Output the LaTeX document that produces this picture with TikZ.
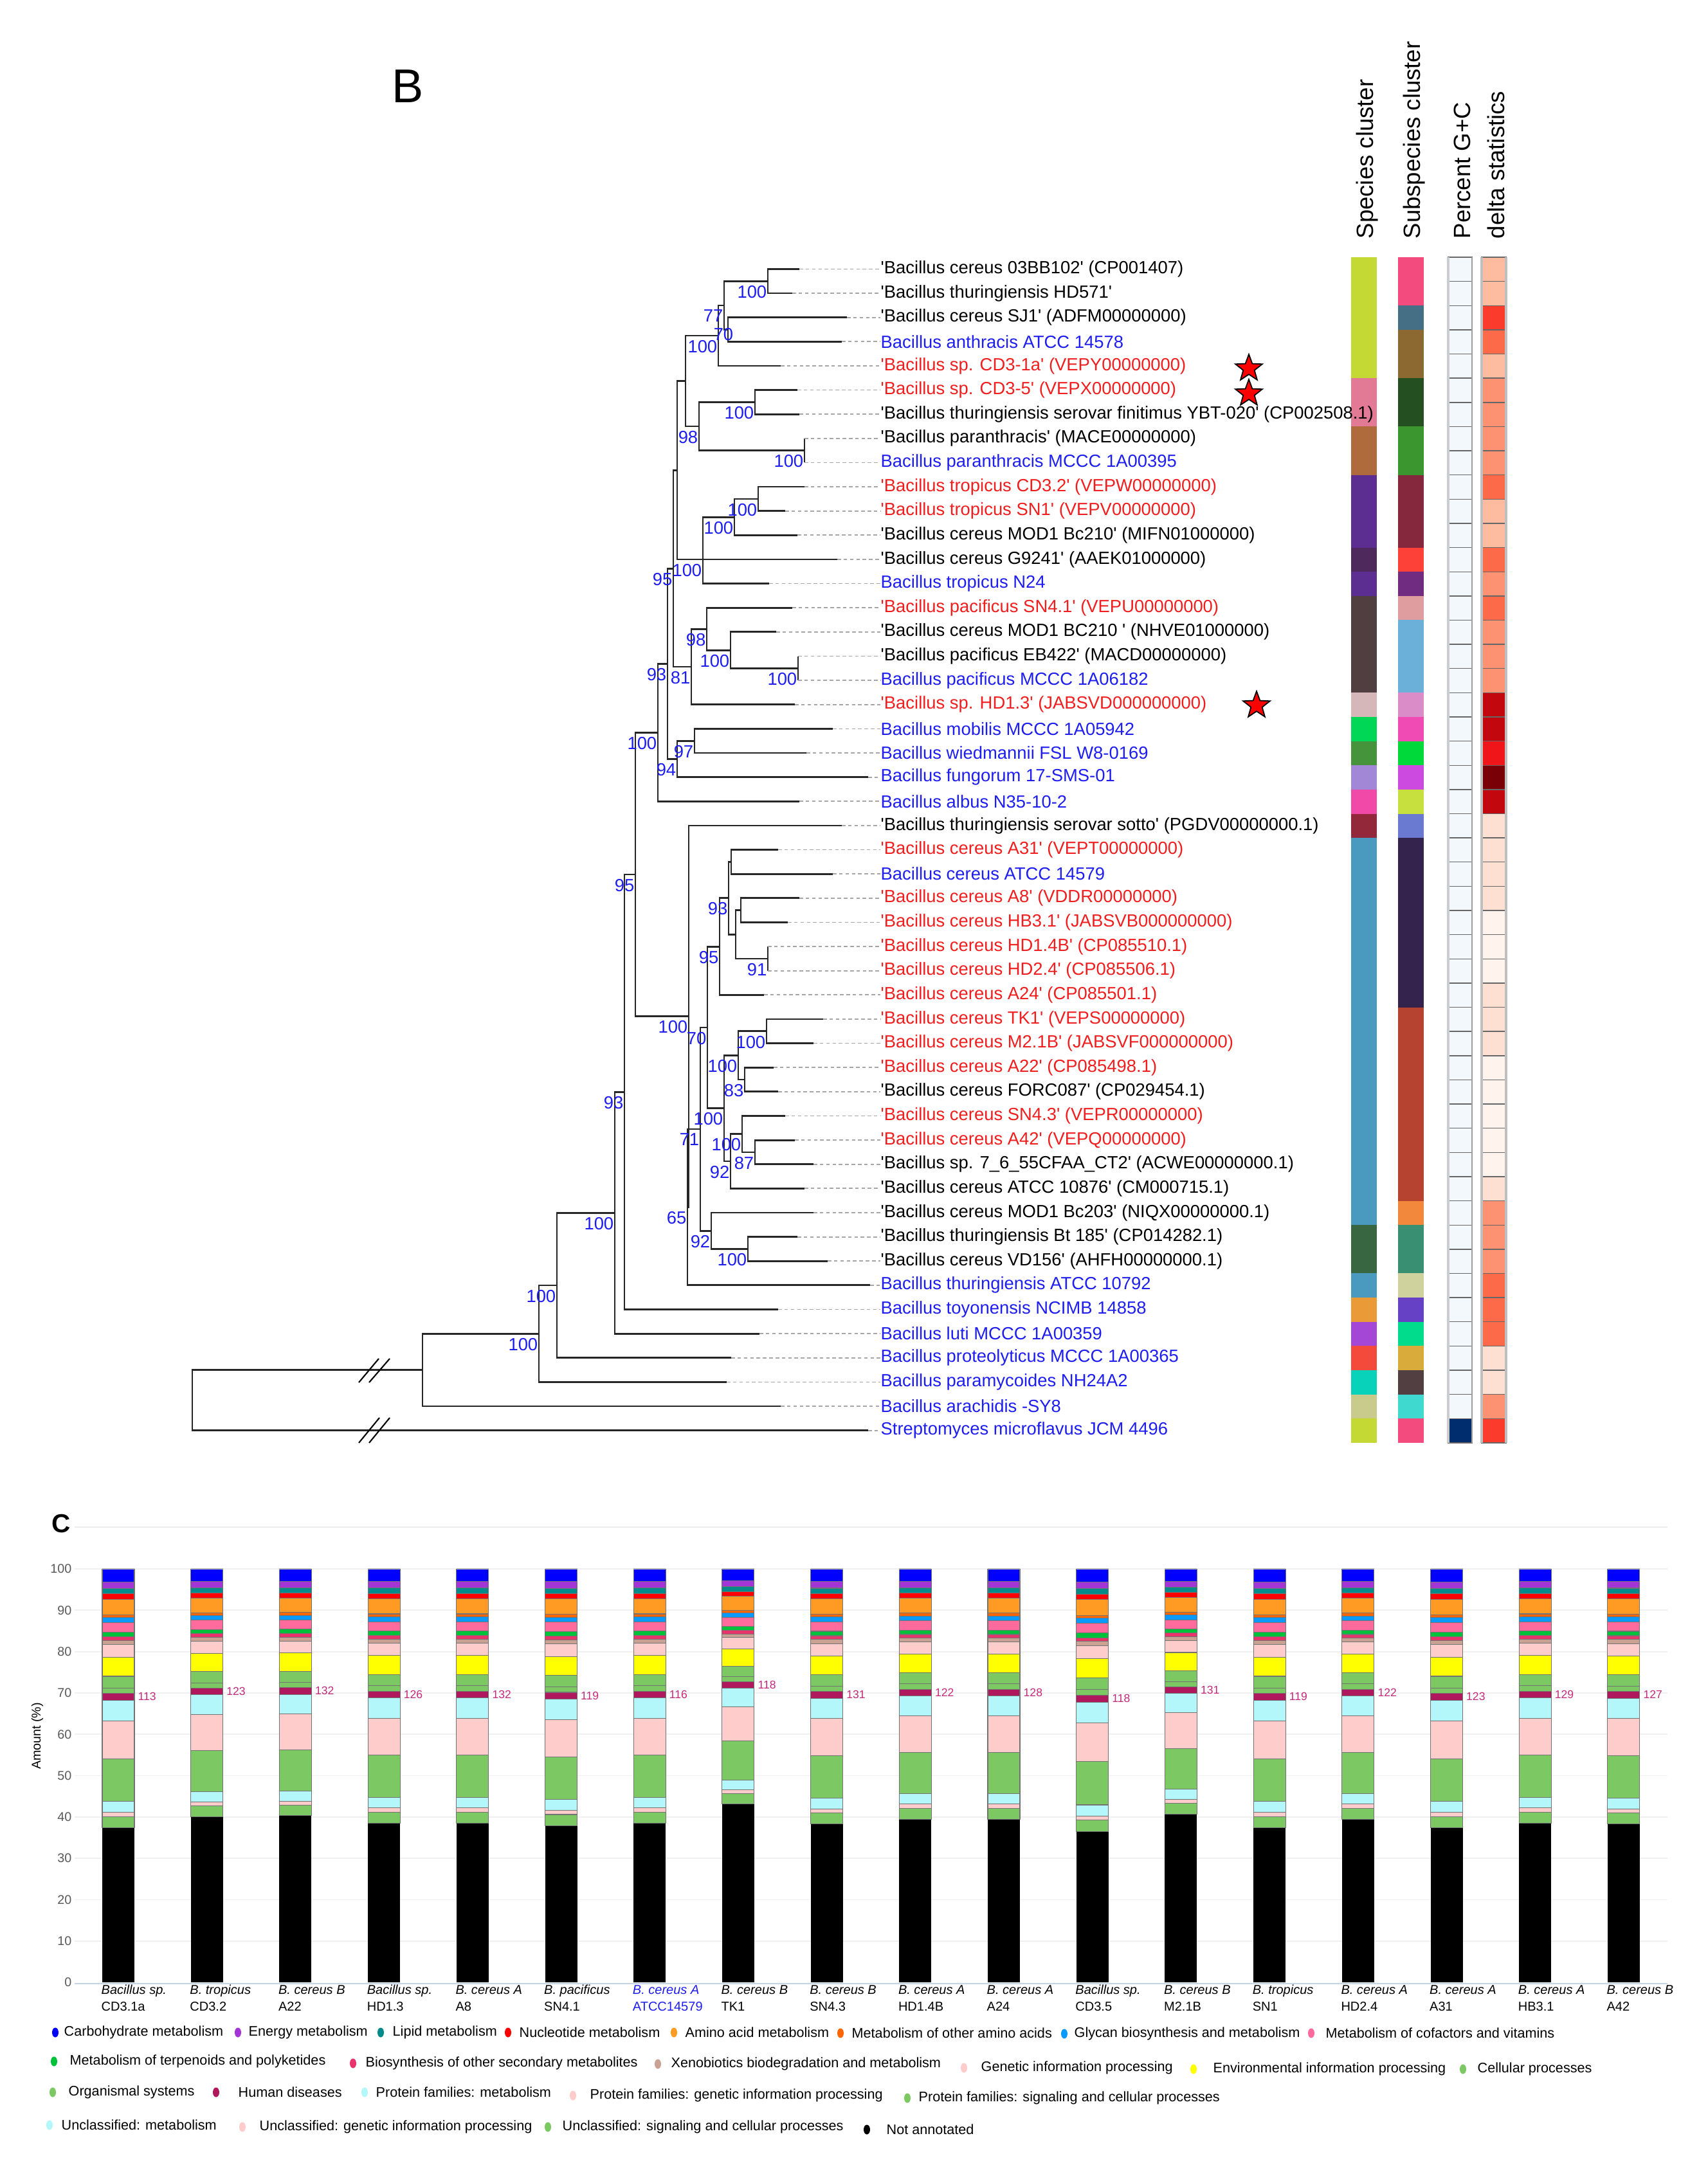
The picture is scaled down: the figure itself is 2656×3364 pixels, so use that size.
\documentclass[tikz,border=0pt]{standalone}
\usepackage{fontspec}
\setmainfont{Liberation Sans}
\usetikzlibrary{shapes.geometric}
\newcommand{\sqt}[1]{\textquotesingle#1\textquotesingle}
\definecolor{tb}{HTML}{1E1EF0}
\definecolor{tr}{HTML}{F01E1E}
\definecolor{tk}{HTML}{000000}
\definecolor{numc}{HTML}{C42A7C}
\definecolor{gcl}{HTML}{F3F8FC}
\definecolor{gcn}{HTML}{002D6E}
\definecolor{axisblue}{HTML}{C5D3E8}
% delta statistics shades
\definecolor{dA}{HTML}{FDBBA0}
\definecolor{dB}{HTML}{FC9272}
\definecolor{dC}{HTML}{FC6A4A}
\definecolor{dD}{HTML}{FB3B2B}
\definecolor{dE}{HTML}{C2080E}
\definecolor{dF}{HTML}{EF1519}
\definecolor{dG}{HTML}{7A0007}
\definecolor{dH}{HTML}{FDE0D2}
\definecolor{dI}{HTML}{FFF3EE}
% KEGG categories
\definecolor{cCb}{HTML}{0000FF}
\definecolor{cEn}{HTML}{A335D6}
\definecolor{cLi}{HTML}{008B8B}
\definecolor{cNu}{HTML}{FF0000}
\definecolor{cAa}{HTML}{FF9A22}
\definecolor{cOa}{HTML}{FF6600}
\definecolor{cGl}{HTML}{0A99FF}
\definecolor{cCv}{HTML}{FF6B9D}
\definecolor{cTp}{HTML}{00C23A}
\definecolor{cBs}{HTML}{E8336B}
\definecolor{cXb}{HTML}{C9A293}
\definecolor{cGi}{HTML}{FFCCCC}
\definecolor{cEi}{HTML}{FFFF00}
\definecolor{cCp}{HTML}{7CC862}
\definecolor{cOs}{HTML}{7CC862}
\definecolor{cHd}{HTML}{B0185E}
\definecolor{cPm}{HTML}{B3F7FA}
\definecolor{cPg}{HTML}{FFCCCC}
\definecolor{cPs}{HTML}{7CC862}
\definecolor{cUm}{HTML}{B3F7FA}
\definecolor{cUg}{HTML}{FFCCCC}
\definecolor{cUs}{HTML}{7CC862}
\definecolor{cNa}{HTML}{000000}

\begin{document}
\begin{tikzpicture}[x=0.1mm, y=-0.1mm,
	br/.style={line width=0.8pt, black!85},
	dl/.style={gray!70, line width=0.5pt, dash pattern=on 1.6pt off 1.2pt},
	lf/.style={font=\fontsize{7.8}{9}\selectfont, anchor=west, inner sep=0pt},
	bs/.style={font=\fontsize{7.8}{9}\selectfont, text=tb, anchor=north east, inner sep=0.3pt, yshift=-1.5pt},
	hd/.style={font=\fontsize{10.4}{12}\selectfont, rotate=90, anchor=west, inner sep=0pt},
	redstar/.style={star, star points=5, star point ratio=2.4, fill=red, draw=black, line width=0.5pt, minimum size=4.4mm, inner sep=0pt},
	bl/.style={font=\fontsize{5.7}{7}\selectfont, anchor=base west, inner sep=0pt},
	ticklab/.style={font=\fontsize{5.6}{7}\selectfont, text=black!65, anchor=east, inner sep=0pt},
	nmst/.style={font=\fontsize{5}{6}\selectfont, text=numc, anchor=west, inner sep=0pt},
	lg/.style={font=\fontsize{6.15}{7}\selectfont, anchor=west, inner sep=0pt}]
	\fill[white] (0,0) rectangle (2656,3364);
	\useasboundingbox (0,0) rectangle (2656,3364);

	% ---------- panel B ----------
	\node[font=\fontsize{21}{24}\selectfont, anchor=west, inner sep=0pt] (lblB) at (609,134) {B};

	% column headers
	\node[hd] (hSp) at (2126,372) {Species cluster};
	\node[hd] (hSub) at (2199,372) {Subspecies cluster};
	\node[hd] (hGC) at (2274,372) {Percent G+C};
	\node[hd] (hDel) at (2326,372) {delta statistics};

	% species cluster strip
	\foreach \a/\b/\c in {1/5/C5D934, 6/7/E27A95, 8/9/B06B3C, 10/12/5D2E91, 13/13/4E2A5C,
		14/14/5D2E91, 15/18/503E40, 19/19/D5B7BA, 20/20/00D757, 21/21/45933A, 22/22/A187D6,
		23/23/F149A8, 24/24/93283A, 25/40/4A9AC0, 41/42/386640, 43/43/4A9AC0, 44/44/EA9A36,
		45/45/A447D6, 46/46/F44A3B, 47/47/08D2B9, 48/48/C8CB8B, 49/49/C5D934}{
		\edef\tmp{\noexpand\definecolor{runc}{HTML}{\c}}\tmp
		\fill[runc] (2101,{400+37.63*(\a-1)}) rectangle (2141,{400+37.63*\b});
	}
	% subspecies cluster strip
	\foreach \a/\b/\c in {1/2/F34B7D, 3/3/456F85, 4/5/8D6932, 6/7/234F21, 8/9/3C962F,
		10/12/86283D, 13/13/FE4138, 14/14/702C80, 15/15/E09D9F, 16/18/6BB0D8, 19/19/D98CC8,
		20/20/F04AB5, 21/21/00D93A, 22/22/CD4AE0, 23/23/C8E03E, 24/24/6A7AD0, 25/31/34234D,
		32/39/B5432F, 40/40/F2883B, 41/42/388F72, 43/43/CFD29D, 44/44/6640C5, 45/45/00DC8C,
		46/46/D9AB3A, 47/47/523F42, 48/48/40D9D0, 49/49/F34B7D}{
		\edef\tmp{\noexpand\definecolor{runc}{HTML}{\c}}\tmp
		\fill[runc] (2174,{400+37.63*(\a-1)}) rectangle (2214,{400+37.63*\b});
	}
	% percent G+C strip
	\foreach \i in {1,...,48}
		\filldraw[fill=gcl, draw=gray!80!black, line width=0.4pt] (2252,{400+37.63*(\i-1)}) rectangle (2289,{400+37.63*\i});
	\filldraw[fill=gcn, draw=gray!80!black, line width=0.4pt] (2252,2206.2) rectangle (2289,2243.9);
	\draw[gray!40, line width=1.3pt] (2252,400) -- (2252,2244);
	\draw[gray!75, line width=0.8pt] (2289,400) -- (2289,2244);
	% delta statistics strip
	\foreach \c [count=\i] in {dA,dA,dD,dC,dA,dB,dB,dB,dB,dC,dA,dA,dC,dB,dC,dB,dB,dB,dE,dE,
		dF,dG,dE,dH,dH,dH,dH,dI,dI,dI,dH,dH,dH,dI,dI,dI,dI,dI,dH,dB,dB,dB,dC,dC,dC,dH,dH,dB,dD}
		\filldraw[fill=\c, draw=black!60, line width=0.4pt] (2304,{400+37.63*(\i-1)}) rectangle (2342,{400+37.63*\i});
	\draw[gray!50, line width=0.9pt] (2304,400) -- (2304,2244) (2342,400) -- (2342,2244);

	% leaves: tip of branch and label
	\foreach \i/\tip/\col/\txt in {
		1/1243/tk/{\sqt{Bacillus cereus 03BB102} (CP001407)},
		2/1232/tk/{\sqt{Bacillus thuringiensis HD571}},
		3/1317/tk/{\sqt{Bacillus cereus SJ1} (ADFM00000000)},
		4/1309/tb/{Bacillus anthracis ATCC 14578},
		5/1214/tr/{\sqt{Bacillus sp. CD3-1a} (VEPY00000000)},
		6/1240/tr/{\sqt{Bacillus sp. CD3-5} (VEPX00000000)},
		7/1243/tk/{\sqt{Bacillus thuringiensis serovar finitimus YBT-020} (CP002508.1)},
		8/1251/tk/{\sqt{Bacillus paranthracis} (MACE00000000)},
		9/1251/tb/{Bacillus paranthracis MCCC 1A00395},
		10/1251/tr/{\sqt{Bacillus tropicus CD3.2} (VEPW00000000)},
		11/1221/tr/{\sqt{Bacillus tropicus SN1} (VEPV00000000)},
		12/1240/tk/{\sqt{Bacillus cereus MOD1 Bc210} (MIFN01000000)},
		13/1302/tk/{\sqt{Bacillus cereus G9241} (AAEK01000000)},
		14/1196/tb/{Bacillus tropicus N24},
		15/1232/tr/{\sqt{Bacillus pacificus SN4.1} (VEPU00000000)},
		16/1207/tk/{\sqt{Bacillus cereus MOD1 BC210 } (NHVE01000000)},
		17/1241/tk/{\sqt{Bacillus pacificus EB422} (MACD00000000)},
		18/1241/tb/{Bacillus pacificus MCCC 1A06182},
		19/1236/tr/{\sqt{Bacillus sp. HD1.3} (JABSVD000000000)},
		20/1295/tb/{Bacillus mobilis MCCC 1A05942},
		21/1254/tb/{Bacillus wiedmannii FSL W8-0169},
		22/1350/tb/{Bacillus fungorum 17-SMS-01},
		23/1243/tb/{Bacillus albus N35-10-2},
		24/1309/tk/{\sqt{Bacillus thuringiensis serovar sotto} (PGDV00000000.1)},
		25/1210/tr/{\sqt{Bacillus cereus A31} (VEPT00000000)},
		26/1295/tb/{Bacillus cereus ATCC 14579},
		27/1243/tr/{\sqt{Bacillus cereus A8} (VDDR00000000)},
		28/1225/tr/{\sqt{Bacillus cereus HB3.1} (JABSVB000000000)},
		29/1194/tr/{\sqt{Bacillus cereus HD1.4B} (CP085510.1)},
		30/1194/tr/{\sqt{Bacillus cereus HD2.4} (CP085506.1)},
		31/1188/tr/{\sqt{Bacillus cereus A24} (CP085501.1)},
		32/1280/tr/{\sqt{Bacillus cereus TK1} (VEPS00000000)},
		33/1265/tr/{\sqt{Bacillus cereus M2.1B} (JABSVF000000000)},
		34/1203/tr/{\sqt{Bacillus cereus A22} (CP085498.1)},
		35/1210/tk/{\sqt{Bacillus cereus FORC087} (CP029454.1)},
		36/1221/tr/{\sqt{Bacillus cereus SN4.3} (VEPR00000000)},
		37/1236/tr/{\sqt{Bacillus cereus A42} (VEPQ00000000)},
		38/1265/tk/{\sqt{Bacillus sp. 7\_6\_55CFAA\_CT2} (ACWE00000000.1)},
		39/1251/tk/{\sqt{Bacillus cereus ATCC 10876} (CM000715.1)},
		40/1265/tk/{\sqt{Bacillus cereus MOD1 Bc203} (NIQX00000000.1)},
		41/1240/tk/{\sqt{Bacillus thuringiensis Bt 185} (CP014282.1)},
		42/1287/tk/{\sqt{Bacillus cereus VD156} (AHFH00000000.1)},
		43/1353/tb/{Bacillus thuringiensis ATCC 10792},
		44/1210/tb/{Bacillus toyonensis NCIMB 14858},
		45/1181/tb/{Bacillus luti MCCC 1A00359},
		46/1137/tb/{Bacillus proteolyticus MCCC 1A00365},
		47/1130/tb/{Bacillus paramycoides NH24A2},
		48/1214/tb/{Bacillus arachidis -SY8},
		49/1350/tb/{Streptomyces microflavus JCM 4496}}{
		\pgfmathsetmacro\ly{418.4+37.63*(\i-1)}
		\coordinate (t\i) at (\tip,\ly);
		\node[lf, text=\col] (L\i) at (1369,\ly) {\txt};
	}

	% inner nodes of the tree
	\foreach \n/\x/\y in {nA/1194/437.2, nB/1132/512.5, nC/1126/474.9, nD/1117/521.9,
		nG/1174/625.4, nH/1251/700.6, nE/1087/663.0, nF/1066/592.4, nI/1179/775.9,
		nJ/1142/804.1, nT/1093/870.0, nQ/1053/731.2, nS2/1241/1039.3, nP/1136/1011.1,
		n98/1099/978.2, n81/1075/1036.9, nU/1047/884.1, n97/1080/1152.2, n94/1053/1180.4,
		nV/1038/1032.3, nW/1023/1139.3, nAC1/1137/1340.4, nAC2/1152/1415.6, n91/1194/1490.9,
		nAC3/1144/1453.2, n93b/1133/1396.8, n95b/1119/1472.1, nTK/1192/1603.8, n83/1158/1679.0,
		n100c/1148/1641.4, n87/1174/1791.9, n100d/1154/1763.7, n92a/1136/1806.0,
		n100e/1126/1723.7, n70/1100/1597.9, nBt/1163/1942.4, n92b/1106/1914.2, n71/1089/1756.0,
		n65/1069/1877.5, nAD/1071/1580.7, nX/988/1360.0, nY/971/1698.3, nZ/956/1886.2,
		nAA/866/1999.0, nAB/838/2074.2, nAC/657/2130.6, root/299/2177.6}
		\coordinate (\n) at (\x,\y);

	% branches
	\foreach \p/\c in {nA/t1, nA/t2, nB/t3, nB/t4, nC/nA, nC/nB, nD/nC, nD/t5, nG/t6, nG/t7,
		nH/t8, nH/t9, nE/nG, nE/nH, nF/nD, nF/nE, nI/t10, nI/t11, nJ/nI, nJ/t12, nT/nJ, nT/t13,
		nT/t14, nQ/nF, nQ/nT, nS2/t17, nS2/t18, nP/t16, nP/nS2, n98/t15, n98/nP, n81/n98,
		n81/t19, nU/nQ, nU/n81, n97/t20, n97/t21, n94/n97, n94/t22, nV/nU, nV/n94, nW/nV,
		nW/t23, nAC1/t25, nAC1/t26, nAC2/t27, nAC2/t28, n91/t29, n91/t30, nAC3/nAC2, nAC3/n91,
		n93b/nAC1, n93b/nAC3, n95b/n93b, n95b/t31, nTK/t32, nTK/t33, n83/t34, n83/t35,
		n100c/nTK, n100c/n83, n87/t37, n87/t38, n100d/t36, n100d/n87, n92a/n100d, n92a/t39,
		n100e/n100c, n100e/n92a, n70/n95b, n70/n100e, nBt/t41, nBt/t42, n92b/t40, n92b/nBt,
		n71/n70, n71/n92b, n65/n71, n65/t43, nAD/t24, nAD/n65, nX/nW, nX/nAD, nY/nX, nY/t44,
		nZ/nY, nZ/t45, nAA/nZ, nAA/t46, nAB/nAA, nAB/t47, nAC/nAB, nAC/t48, root/nAC, root/t49}
		\draw[br] (\p) |- (\c);
	\foreach \i in {1,...,49}
		\draw[dl] (t\i) -- (L\i.west);
	% broken branches
	\draw[black, line width=0.6pt] (558,2150) -- (589,2113) (574,2150) -- (606,2113);
	\draw[black, line width=0.6pt] (558,2244) -- (590,2205) (574,2244) -- (606,2205);

	% bootstrap support
	\foreach \n/\s in {nA/100, nC/77, nD/100, nG/100, nH/100, nE/98, nI/100, nJ/100,
		nT/100, nS2/100, nP/100, n98/98, n81/81, nU/95, n97/97, n94/94, nV/93, nW/100, n91/91,
		n93b/93, n95b/95, nTK/100, n83/83, n100c/100, n87/87, n100d/100, n92a/92, n100e/100,
		n70/70, nBt/100, n92b/92, n71/71, n65/65, nAD/100, nX/95, nY/93, nZ/100, nAA/100, nAB/100}
		\node[bs] (s\n) at (\n) {\s};
	\node[bs, anchor=east, yshift=0pt] (snB) at (1142,514.5) {70};

	% new isolates
	\node[redstar] (st1) at (1942,573) {};
	\node[redstar] (st2) at (1942,612) {};
	\node[redstar] (st3) at (1954,1097) {};

	% ---------- panel C ----------
	\node[font=\bfseries\fontsize{11.5}{13}\selectfont, anchor=west, inner sep=0pt] (lblC) at (80,2370) {C};
	\draw[gray!15, line width=0.5pt] (116,2375) -- (2593,2375);
	\foreach \v in {10,20,...,100}
		\draw[gray!12, line width=0.5pt] (116,{3083-6.43*\v}) -- (2593,{3083-6.43*\v});
	\foreach \v in {0,10,...,100}
		\node[ticklab] (tick\v) at (112,{3083-6.43*\v}) {\v};
	\node[font=\fontsize{5.6}{7}\selectfont, rotate=90, inner sep=0pt] (yttl) at (58,2700) {Amount (\%)};

	% stacked bars
	\foreach \bk/\lna/\lnb/\nm/\lc [count=\i from 0] in {
		37.4/Bacillus sp./CD3.1a/113/black, 40.1/B. tropicus/CD3.2/123/black,
		40.3/B. cereus B/A22/132/black, 38.5/Bacillus sp./HD1.3/126/black,
		38.5/B. cereus A/A8/132/black, 37.9/B. pacificus/SN4.1/119/black,
		38.5/B. cereus A/ATCC14579/116/tb, 43.2/B. cereus B/TK1/118/black,
		38.3/B. cereus B/SN4.3/131/black, 39.5/B. cereus A/HD1.4B/122/black,
		39.5/B. cereus A/A24/128/black, 36.5/Bacillus sp./CD3.5/118/black,
		40.7/B. cereus B/M2.1B/131/black, 37.4/B. tropicus/SN1/119/black,
		39.5/B. cereus A/HD2.4/122/black, 37.4/B. cereus A/A31/123/black,
		38.5/B. cereus A/HB3.1/129/black, 38.3/B. cereus B/A42/127/black}{
		\pgfmathsetmacro\bx{159+137.7*\i}
		\pgfmathsetmacro\fac{(100-\bk)/62.2}
		\fill[cNa] (\bx,3083) rectangle ({\bx+50},{3083-6.43*\bk});
		\xdef\cum{\bk}
		\foreach \c/\w in {cUs/2.7, cUg/1.0, cUm/2.6, cPs/10.3, cPg/9.1, cPm/4.9, cHd/1.7,
			cOs/1.3, cCp/2.8, cEi/4.6, cGi/3.0, cXb/1.0, cBs/0.9, cTp/1.1, cCv/2.3, cGl/1.2,
			cOa/0.7, cAa/3.7, cNu/1.3, cLi/1.3, cEn/1.6, cCb/3.1}{
			\pgfmathsetmacro\nv{\cum+\w*\fac}
			\filldraw[fill=\c, draw=black!55, line width=0.3pt] (\bx,{3083-6.43*\cum}) rectangle ({\bx+50},{3083-6.43*\nv});
			\xdef\cum{\nv}
		}
		\draw[gray!60, line width=0.6pt] (\bx,2440) -- ({\bx+50},2440);
		\node[nmst] (num\i) at ({\bx+55},{3083-6.43*(\bk+31.5*\fac)}) {\nm};
		\node[bl, text=\lc] (bla\i) at ({\bx-2},3101) {\itshape\lna};
		\node[bl, text=\lc] (blb\i) at ({\bx-2},3127) {\lnb};
	}
	\draw[axisblue, line width=0.8pt] (116,3085) -- (2593,3085);

	% legend
	\foreach \dx/\tx/\ly/\c/\txt [count=\k] in {
		86/99/3161/cCb/Carbohydrate metabolism, 370/386/3161/cEn/Energy metabolism,
		592/610/3161/cLi/Lipid metabolism, 790/807/3161/cNu/Nucleotide metabolism,
		1048/1065/3161/cAa/Amino acid metabolism, 1307/1324/3162/cOa/Metabolism of other amino acids,
		1655/1670/3163/cGl/Glycan biosynthesis and metabolism,
		2039/2061/3162/cCv/Metabolism of cofactors and vitamins,
		84/108/3206/cTp/Metabolism of terpenoids and polyketides,
		549/568/3209/cBs/Biosynthesis of other secondary metabolites,
		1023/1043/3210/cXb/Xenobiotics biodegradation and metabolism,
		1499/1525/3216/cGi/Genetic information processing,
		1856/1886/3218/cEi/Environmental information processing,
		2275/2297/3218/cCp/Cellular processes,
		82/106/3254/cOs/Organismal systems, 336/370/3254/cHd/Human diseases,
		567/584/3254/cPm/Protein families: metabolism,
		891/917/3259/cPg/Protein families: genetic information processing,
		1411/1428/3263/cPs/Protein families: signaling and cellular processes,
		77/95/3305/cUm/Unclassified: metabolism,
		377/403/3308/cUg/Unclassified: genetic information processing,
		852/874/3308/cUs/Unclassified: signaling and cellular processes,
		1348/1378/3312/cNa/Not annotated}{
		\fill[\c] (\dx,\ly) ellipse (5 and 7.5);
		\node[lg] (lg\k) at (\tx,\ly) {\txt};
	}
\end{tikzpicture}
\end{document}
